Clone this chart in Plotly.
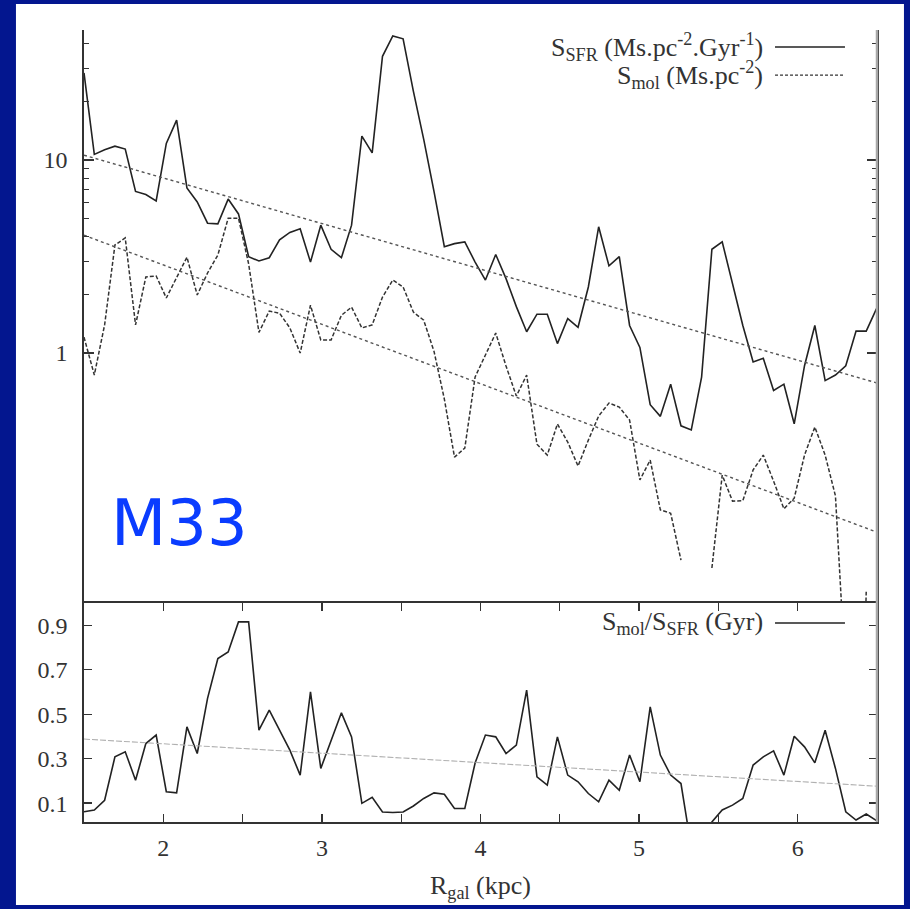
import plotly.graph_objects as go

# ---------------- data ----------------
R = [1.500, 1.565, 1.630, 1.695, 1.760, 1.825, 1.890, 1.955, 2.019, 2.084,
     2.149, 2.214, 2.279, 2.344, 2.409, 2.474, 2.538, 2.603, 2.668, 2.733,
     2.798, 2.863, 2.928, 2.993, 3.058, 3.123, 3.187, 3.252, 3.317, 3.382,
     3.447, 3.512, 3.577, 3.642, 3.707, 3.772, 3.836, 3.901, 3.966, 4.031,
     4.096, 4.161, 4.226, 4.291, 4.356, 4.421, 4.485, 4.550, 4.615, 4.680,
     4.745, 4.810, 4.875, 4.940, 5.005, 5.070, 5.134, 5.199, 5.264, 5.329,
     5.394, 5.459, 5.524, 5.589, 5.654, 5.719, 5.783, 5.848, 5.913, 5.978,
     6.043, 6.108, 6.173, 6.238, 6.303, 6.368, 6.432, 6.497]

S_SFR = [28.3, 10.7, 11.3, 11.8, 11.4, 6.88, 6.63, 6.14, 12.2, 16.1,
         7.17, 6.07, 4.71, 4.67, 6.28, 5.26, 3.16, 3.0, 3.12, 3.86,
         4.22, 4.41, 2.96, 4.6, 3.45, 3.12, 4.6, 13.3, 10.9, 34.5,
         44.0, 42.5, 22.7, 12.8, 6.87, 3.56, 3.69, 3.77, 2.96, 2.39,
         3.24, 2.43, 1.74, 1.29, 1.59, 1.59, 1.12, 1.51, 1.36, 2.2,
         4.51, 2.83, 3.16, 1.39, 1.07, 0.54, 0.47, 0.69, 0.42, 0.40,
         0.75, 3.45, 3.77, 2.27, 1.39, 0.9, 0.94, 0.64, 0.69, 0.43,
         0.86, 1.39, 0.72, 0.77, 0.86, 1.30, 1.30, 1.70]

S_MOL = [1.21, 0.77, 1.40, 3.63, 3.95, 1.40, 2.48, 2.51, 1.93, 2.45,
         3.14, 2.0, 2.60, 3.22, 5.0, 5.0, 2.9, 1.28, 1.65, 1.61,
         1.35, 1.0, 1.77, 1.17, 1.17, 1.57, 1.73, 1.35, 1.40, 1.95,
         2.39, 2.20, 1.63, 1.48, 1.02, 0.578, 0.289, 0.322, 0.752, 0.977,
         1.27, 0.857, 0.599, 0.769, 0.337, 0.296, 0.429, 0.346, 0.26, 0.354,
         0.472, 0.551, 0.525, 0.45, 0.22, 0.279, 0.154, 0.148, 0.0846, None,
         None, 0.077, 0.233, 0.171, 0.172, 0.248, 0.296, 0.217, 0.156, 0.177,
         0.296, 0.414, 0.296, 0.182, 0.02, 0.0005, 0.058, None]

RATIO = [0.061, 0.069, 0.113, 0.308, 0.331, 0.203, 0.368, 0.406, 0.151, 0.146,
         0.443, 0.323, 0.571, 0.750, 0.780, 0.915, 0.915, 0.428, 0.518, 0.428,
         0.338, 0.226, 0.600, 0.256, 0.383, 0.506, 0.398, 0.099, 0.126, 0.060,
         0.058, 0.060, 0.087, 0.121, 0.146, 0.140, 0.076, 0.076, 0.280, 0.406,
         0.398, 0.323, 0.361, 0.608, 0.218, 0.181, 0.398, 0.226, 0.196, 0.143,
         0.106, 0.203, 0.158, 0.316, 0.196, 0.533, 0.316, 0.226, 0.188, -0.10,
         -0.10, 0.015, 0.069, 0.091, 0.121, 0.271, 0.308, 0.335, 0.226, 0.401,
         0.353, 0.281, 0.428, 0.256, 0.061, 0.024, 0.051, 0.021]

FIT_R = [1.5, 6.5]
FIT_UPPER = [10.6, 0.70]
FIT_LOWER = [4.08, 0.118]
FIT_RATIO = [0.388, 0.176]

X_TICKS = [2, 2.5, 3, 3.5, 4, 4.5, 5, 5.5, 6]
X_TICKTEXT = ["2", "", "3", "", "4", "", "5", "", "6"]
Y_TOP_MAJOR = [1, 10]
Y_TOP_MINOR = [2, 3, 4, 5, 6, 7, 8, 9, 20, 30, 40]
Y_BOT_TICKS = [0.1, 0.3, 0.5, 0.7, 0.9]

# ---------------- style ----------------
NAVY = "#03168f"
INK = "#222222"
SERIF = "Liberation Serif, Times New Roman, Times, serif"
TICKFONT = dict(family=SERIF, size=24, color="#333333")

fig = go.Figure()

# top panel
fig.add_trace(go.Scatter(x=R, y=S_SFR, xaxis="x2", yaxis="y2", mode="lines",
                         line=dict(color=INK, width=1.6), connectgaps=False))
fig.add_trace(go.Scatter(x=R, y=S_MOL, xaxis="x2", yaxis="y2", mode="lines",
                         line=dict(color="#333333", width=1.5, dash="4px,2px"),
                         connectgaps=False))
fig.add_trace(go.Scatter(x=FIT_R, y=FIT_UPPER, xaxis="x2", yaxis="y2", mode="lines",
                         line=dict(color="#555555", width=1.4, dash="3px,3px")))
fig.add_trace(go.Scatter(x=FIT_R, y=FIT_LOWER, xaxis="x2", yaxis="y2", mode="lines",
                         line=dict(color="#555555", width=1.4, dash="3px,3px")))

# bottom panel
fig.add_trace(go.Scatter(x=R, y=RATIO, xaxis="x", yaxis="y", mode="lines",
                         line=dict(color=INK, width=1.6)))
fig.add_trace(go.Scatter(x=FIT_R, y=FIT_RATIO, xaxis="x", yaxis="y", mode="lines",
                         line=dict(color="#b0b0b0", width=1.1, dash="6px,2px")))

SPLIT = 0.2765

shapes = [
    # white page inside the navy frame
    dict(type="rect", xref="paper", yref="paper", x0=-0.0858, x1=1.034,
         y0=-0.1048, y1=1.0328, fillcolor="white", line=dict(width=0), layer="below"),
    # light gray right-hand frame
    dict(type="line", xref="paper", yref="paper", x0=1, x1=1, y0=0, y1=1,
         line=dict(color="#a8a8a8", width=2.5), layer="above"),
    # legend samples
    dict(type="line", xref="paper", yref="paper", x0=0.8714, x1=0.9596,
         y0=0.9785, y1=0.9785, line=dict(color=INK, width=1.6)),
    dict(type="line", xref="paper", yref="paper", x0=0.8714, x1=0.9596,
         y0=0.943, y1=0.943, line=dict(color="#333333", width=1.4, dash="3px,2px")),
    dict(type="line", xref="paper", yref="paper", x0=0.8714, x1=0.9596,
         y0=0.2513, y1=0.2513, line=dict(color=INK, width=1.6)),
]

LEGFONT = dict(family=SERIF, size=26, color="#333333")
annotations = [
    dict(text="S<sub>SFR</sub> (Ms.pc<sup>-2</sup>.Gyr<sup>-1</sup>)", xref="paper", yref="paper",
         x=0.8588, y=0.9785, xanchor="right", yanchor="middle", showarrow=False, font=LEGFONT),
    dict(text="S<sub>mol</sub> (Ms.pc<sup>-2</sup>)", xref="paper", yref="paper",
         x=0.8588, y=0.943, xanchor="right", yanchor="middle", showarrow=False, font=LEGFONT),
    dict(text="S<sub>mol</sub>/S<sub>SFR</sub> (Gyr)", xref="paper", yref="paper",
         x=0.8588, y=0.2513, xanchor="right", yanchor="middle", showarrow=False, font=LEGFONT),
    dict(text="R<sub>gal</sub> (kpc)", xref="paper", yref="paper",
         x=0.5, y=-0.082, xanchor="center", yanchor="middle", showarrow=False,
         font=dict(family=SERIF, size=26, color="#333333")),
    dict(text="M33", xref="paper", yref="paper", x=0.1204, y=0.3775,
         xanchor="center", yanchor="middle", showarrow=False,
         font=dict(family="DejaVu Sans", size=64, color="#0a3cff")),
]

fig.update_layout(
    width=910, height=909,
    margin=dict(l=84, r=33, t=30, b=87, pad=0),
    paper_bgcolor=NAVY, plot_bgcolor="white",
    showlegend=False,
    shapes=shapes, annotations=annotations,
    xaxis=dict(domain=[0, 1], anchor="y", range=[1.5, 6.5],
               tickmode="array", tickvals=X_TICKS, ticktext=X_TICKTEXT,
               ticks="inside", ticklen=8, tickwidth=1.3, tickcolor="#333333",
               showline=True, linecolor="#333333", linewidth=1.6, mirror="ticks",
               showgrid=False, zeroline=False, tickfont=TICKFONT, ticklabelstandoff=4),
    yaxis=dict(domain=[0, SPLIT], anchor="x", range=[0.015, 1.0],
               tickmode="array", tickvals=Y_BOT_TICKS,
               ticktext=["0.1", "0.3", "0.5", "0.7", "0.9"],
               ticks="inside", ticklen=8, tickwidth=1.3, tickcolor="#333333",
               showline=True, linecolor="#333333", linewidth=1.6, mirror="ticks",
               showgrid=False, zeroline=False, tickfont=TICKFONT, ticklabelstandoff=10),
    xaxis2=dict(domain=[0, 1], anchor="y2", matches="x", range=[1.5, 6.5],
                showticklabels=False, ticks="", showline=False,
                showgrid=False, zeroline=False),
    yaxis2=dict(domain=[SPLIT, 1], anchor="x2", type="log", range=[-1.295, 1.674],
                tickmode="array", tickvals=Y_TOP_MAJOR, ticktext=["1", "10"],
                ticks="inside", ticklen=10, tickwidth=1.3, tickcolor="#333333",
                minor=dict(tickmode="array", tickvals=Y_TOP_MINOR, ticks="inside",
                           ticklen=5, tickwidth=1, tickcolor="#333333", showgrid=False),
                showline=True, linecolor="#333333", linewidth=1.6, mirror="ticks",
                showgrid=False, zeroline=False, tickfont=TICKFONT, ticklabelstandoff=10),
)

fig.write_html("out.html",
               config={"displayModeBar": False, "staticPlot": True},
               post_script="document.body.style.margin='0';"
                           "document.body.style.overflow='hidden';"
                           "document.body.style.background='" + NAVY + "';")
